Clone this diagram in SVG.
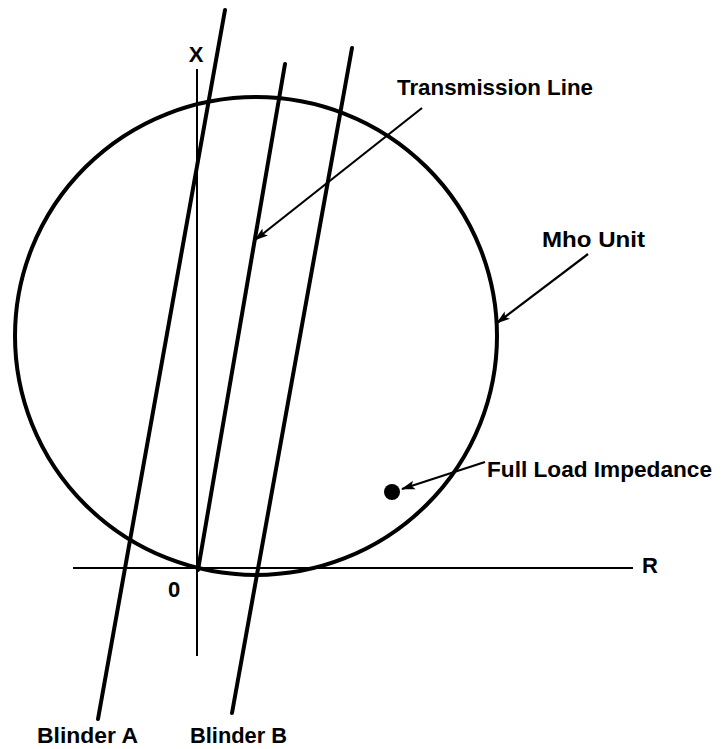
<svg xmlns="http://www.w3.org/2000/svg" width="725" height="749" viewBox="0 0 725 749">
<style>
.lbl{font-family:"Liberation Sans",Arial,sans-serif;font-size:22px;font-weight:bold;fill:#000;}
.thick{stroke:#000;stroke-width:4;fill:none;stroke-linecap:round;}
.axis{stroke:#000;stroke-width:2;fill:none;}
.arr{stroke:#000;stroke-width:2.2;fill:none;marker-end:url(#ah);}
</style>
<defs>
<marker id="ah" viewBox="0 0 14 10" refX="13" refY="5" markerWidth="14" markerHeight="10" markerUnits="userSpaceOnUse" orient="auto">
<path d="M0,0.5 L14,5 L0,9.5 L3,5 Z" fill="#000"/>
</marker>
</defs>
<rect width="725" height="749" fill="#fff"/>
<g id="axes">
<line class="axis" x1="197" y1="69" x2="197" y2="656"/>
<line class="axis" x1="73" y1="568" x2="633" y2="568"/>
<text class="lbl" x="196" y="62" text-anchor="middle" font-size="24">X</text>
<text class="lbl" x="650" y="573" text-anchor="middle">R</text>
<text class="lbl" x="174" y="597" text-anchor="middle">0</text>
</g>
<g id="mho-unit">
<ellipse class="thick" cx="256" cy="336" rx="241" ry="239" stroke-width="3.5"/>
<text class="lbl" x="542" y="247" textLength="103" lengthAdjust="spacingAndGlyphs">Mho Unit</text>
</g>
<g id="transmission-line">
<line class="thick" x1="198" y1="570" x2="285" y2="64"/>
<text class="lbl" x="397" y="95" textLength="196" lengthAdjust="spacingAndGlyphs">Transmission Line</text>
</g>
<g id="blinder-a">
<line class="thick" x1="225" y1="10" x2="98" y2="719"/>
<text class="lbl" x="37" y="743" textLength="101" lengthAdjust="spacingAndGlyphs">Blinder A</text>
</g>
<g id="blinder-b">
<line class="thick" x1="352" y1="48" x2="232" y2="713"/>
<text class="lbl" x="190" y="743" textLength="97" lengthAdjust="spacingAndGlyphs">Blinder B</text>
</g>
<g id="full-load">
<circle cx="392" cy="492" r="8" fill="#000"/>
<text class="lbl" x="487" y="477" textLength="225" lengthAdjust="spacingAndGlyphs">Full Load Impedance</text>
</g>
<g id="connectors">
<line class="arr" x1="422" y1="108" x2="255" y2="240"/>
<line class="arr" x1="588" y1="254" x2="497" y2="323"/>
<line class="arr" x1="485" y1="462" x2="402" y2="489"/>
</g>
</svg>
